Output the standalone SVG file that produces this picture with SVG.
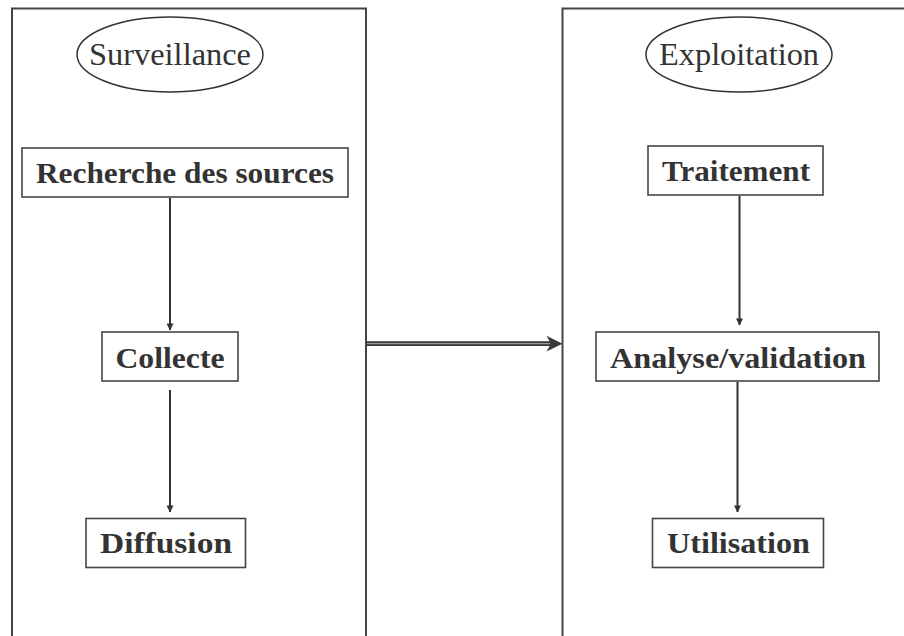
<svg xmlns="http://www.w3.org/2000/svg" width="904" height="636" viewBox="0 0 904 636">
  <style>
    .panel { fill: none; stroke: #444; stroke-width: 2; }
    .box { fill: #fff; stroke: #444; stroke-width: 1.6; }
    .oval { fill: #fff; stroke: #333; stroke-width: 1.5; }
    .title { font-family: "Liberation Serif", "Times New Roman", serif; font-size: 32px; fill: #333; text-anchor: middle; }
    .label { font-family: "Liberation Serif", "Times New Roman", serif; font-size: 30px; font-weight: bold; fill: #333; text-anchor: middle; }
    .conn { stroke: #333; stroke-width: 2; fill: none; }
  </style>
  <defs>
    <marker id="head" viewBox="0 0 8 8" refX="7.5" refY="4" markerWidth="8" markerHeight="7" markerUnits="userSpaceOnUse" orient="auto">
      <path d="M0,0 L8,4 L0,8 z" fill="#333"/>
    </marker>
  </defs>
  <rect width="904" height="636" fill="#fff"/>

  <g id="panel-surveillance">
    <path class="panel" d="M12,640 V8.5 H366 V640"/>
    <ellipse class="oval" cx="170" cy="54.5" rx="93" ry="37.5"/>
    <text class="title" x="170" y="65" textLength="162" lengthAdjust="spacingAndGlyphs">Surveillance</text>
  </g>
  <g id="panel-exploitation">
    <path class="panel" d="M562.5,640 V8.5 H910"/>
    <ellipse class="oval" cx="739" cy="54.5" rx="93" ry="37.5"/>
    <text class="title" x="739" y="65" textLength="160" lengthAdjust="spacingAndGlyphs">Exploitation</text>
  </g>

  <g id="node-recherche">
    <rect class="box" x="22" y="148" width="326" height="49"/>
    <text class="label" x="185" y="183" textLength="298" lengthAdjust="spacingAndGlyphs">Recherche des sources</text>
  </g>
  <g id="node-collecte">
    <rect class="box" x="102" y="332" width="136" height="49"/>
    <text class="label" x="170" y="368" textLength="109" lengthAdjust="spacingAndGlyphs">Collecte</text>
  </g>
  <g id="node-diffusion">
    <rect class="box" x="86" y="518.5" width="159.5" height="49"/>
    <text class="label" x="166" y="553" textLength="132" lengthAdjust="spacingAndGlyphs">Diffusion</text>
  </g>
  <g id="node-traitement">
    <rect class="box" x="648" y="146" width="175" height="49"/>
    <text class="label" x="736" y="180.5" textLength="148" lengthAdjust="spacingAndGlyphs">Traitement</text>
  </g>
  <g id="node-analyse">
    <rect class="box" x="596" y="332" width="283" height="49"/>
    <text class="label" x="738" y="368" textLength="256" lengthAdjust="spacingAndGlyphs">Analyse/validation</text>
  </g>
  <g id="node-utilisation">
    <rect class="box" x="652.5" y="518.5" width="171" height="49"/>
    <text class="label" x="738.5" y="553" textLength="143" lengthAdjust="spacingAndGlyphs">Utilisation</text>
  </g>

  <g id="connectors">
    <line class="conn" x1="170" y1="198" x2="170" y2="330" marker-end="url(#head)"/>
    <line class="conn" x1="170" y1="390" x2="170" y2="512" marker-end="url(#head)"/>
    <line class="conn" x1="739.5" y1="196" x2="739.5" y2="325" marker-end="url(#head)"/>
    <line class="conn" x1="737.5" y1="382" x2="737.5" y2="512" marker-end="url(#head)"/>
    <g id="double-arrow">
      <line x1="366" y1="343.7" x2="552" y2="343.7" stroke="#3a3a3a" stroke-width="4.8"/>
      <line x1="367" y1="343.7" x2="550" y2="343.7" stroke="#9a9a9a" stroke-width="1.3"/>
      <path d="M562.5,343.7 L546.5,335.8 L551,343.7 L546.5,351.6 z" fill="#3a3a3a"/>
    </g>
  </g>
</svg>
